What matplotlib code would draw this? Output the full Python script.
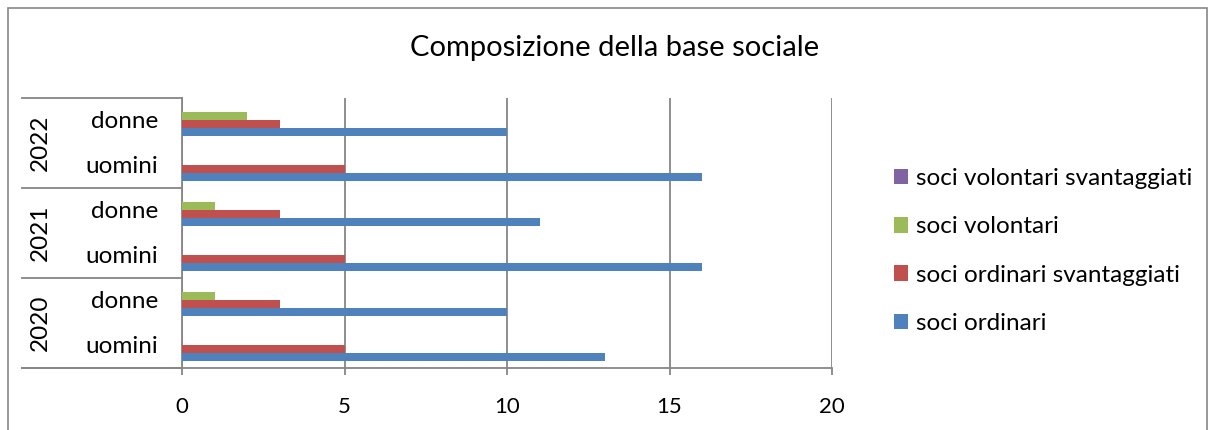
import matplotlib
import matplotlib.pyplot as plt
import numpy as np
from matplotlib.patches import Rectangle
from matplotlib.transforms import blended_transform_factory

matplotlib.use("Agg")

plt.rcParams['font.family'] = ['Lato', 'DejaVu Sans']

# categories, bottom to top
years = ["2020", "2021", "2022"]
genders = ["uomini", "donne"]
series = ["soci ordinari", "soci ordinari svantaggiati",
          "soci volontari", "soci volontari svantaggiati"]
colors = ["#4F81BD", "#C0504D", "#9BBB59", "#8064A2"]

# values per category: 2020 uomini, 2020 donne, 2021 uomini, ...
soci_ordinari = [13, 10, 16, 11, 16, 10]
soci_ordinari_svant = [5, 3, 5, 3, 5, 3]
soci_volontari = [0, 1, 0, 1, 0, 2]
soci_volontari_svant = [0, 0, 0, 0, 0, 0]
values = [soci_ordinari, soci_ordinari_svant, soci_volontari, soci_volontari_svant]

W, H = 1215, 430
fig = plt.figure(figsize=(W / 100, H / 100), dpi=100)
ax = fig.add_axes([182 / W, (H - 368) / H, 650 / W, 270 / H])

# outer chart border
fig.patches.append(Rectangle((8 / W, -0.1), (1207 - 8) / W, 1.1 - 8 / H,
                             transform=fig.transFigure, fill=False,
                             edgecolor="#868686", linewidth=1.2))

y = np.arange(len(soci_ordinari))
h = 0.18
for i, (vals, col, name) in enumerate(zip(values, colors, series)):
    ax.barh(y + (i - 1.5) * 0.178 + 0.01, vals, height=h, color=col,
            label=name, zorder=3)

ax.set_xlim(0, 20)
ax.set_ylim(-0.5, len(y) - 0.5)
ax.set_xticks([0, 5, 10, 15, 20])
ax.set_yticks([])
ax.grid(axis="x", color="#868686", linewidth=1.3, zorder=0)
for s in ["top", "right"]:
    ax.spines[s].set_visible(False)
ax.spines["left"].set_color("#868686")
ax.spines["left"].set_linewidth(1.3)
ax.spines["bottom"].set_visible(False)
ax.tick_params(axis="x", length=5, width=1.3, color="#868686", pad=16,
               labelsize=16)

trans = blended_transform_factory(ax.transAxes, ax.transData)
# bottom axis line across the label area
ax.plot([-0.246, 1.0], [0, 0], transform=ax.transAxes, color="#868686",
        linewidth=1.3, clip_on=False, zorder=5)
# year separators
for k in range(len(years) + 1):
    yy = -0.5 + 2 * k
    ax.plot([-0.246, 0], [yy, yy], transform=trans, color="#868686",
            linewidth=1.3, clip_on=False)

for j in range(len(y)):
    ax.text(-0.037, j - 0.03, genders[j % 2], transform=trans, ha="right",
            va="center", fontsize=17.5)
for k, yr in enumerate(years):
    ax.text(-0.218, 2 * k + 0.5, yr, transform=trans, rotation=90,
            ha="center", va="center", fontsize=17.5)

fig.text(0.506, 0.888, "Composizione della base sociale", ha="center",
         va="center", fontsize=21)

handles, labels = ax.get_legend_handles_labels()
ax.legend(handles[::-1], labels[::-1], loc="center left",
          bbox_to_anchor=(884 / W, 179 / H), bbox_transform=fig.transFigure,
          frameon=False, fontsize=17.5, handlelength=0.6, handleheight=0.6,
          handletextpad=0.3, labelspacing=1.12, borderaxespad=0)

fig.savefig("out.png", dpi=100)
